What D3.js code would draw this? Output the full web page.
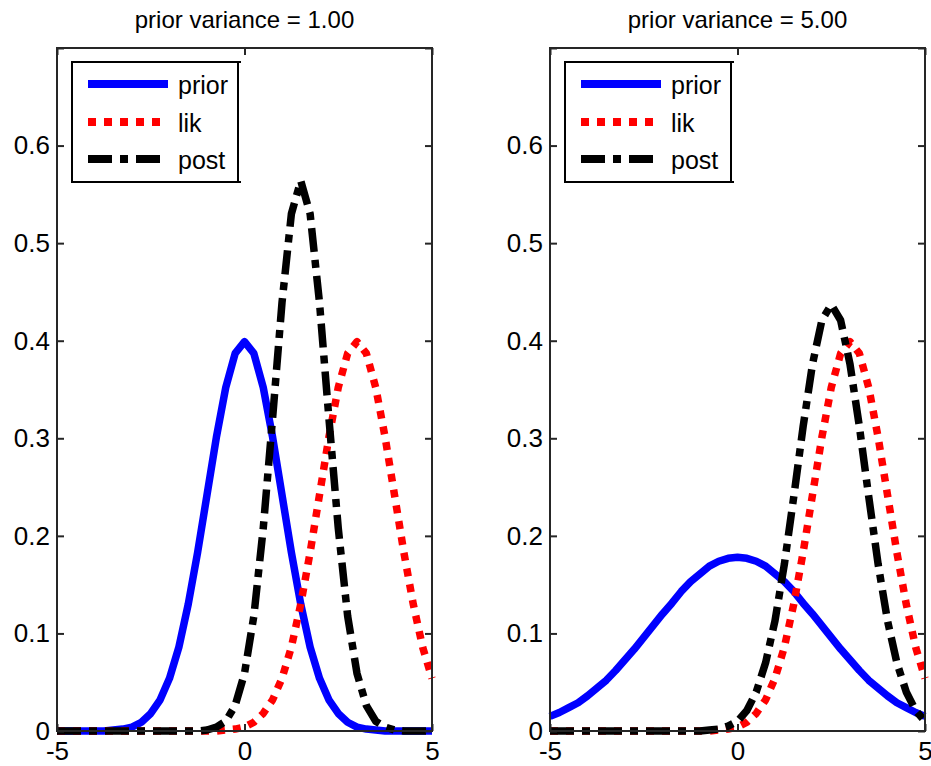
<!DOCTYPE html>
<html>
<head>
<meta charset="utf-8">
<script src="https://cdn.jsdelivr.net/npm/d3@7"></script>
<style>
  html, body { margin: 0; padding: 0; background: #fff; }
  svg { display: block; }
  text { font-family: "Liberation Sans", Arial, sans-serif; fill: #000; }
</style>
</head>
<body>
<svg id="chart" width="931" height="766"></svg>
<script>
// ---------------- data ----------------
const xGrid = [-5,-4.75,-4.5,-4.25,-4,-3.75,-3.5,-3.25,-3,-2.75,-2.5,-2.25,-2,-1.75,-1.5,-1.25,-1,-0.75,-0.5,-0.25,
  0,0.25,0.5,0.75,1,1.25,1.5,1.75,2,2.25,2.5,2.75,3,3.25,3.5,3.75,4,4.25,4.5,4.75,5];

const priorVar1 = [0,0,0,0,0,0,0.001,0.002,0.004,0.009,0.018,0.032,0.054,0.086,0.130,0.183,0.242,0.301,0.352,0.387,
  0.399,0.387,0.352,0.301,0.242,0.183,0.130,0.086,0.054,0.032,0.018,0.009,0.004,0.002,0.001,0,0,0,0,0,0];
const likVar1 = [0,0,0,0,0,0,0,0,0,0,0,0,0,0,0,0,0,0,0.001,0.002,
  0.004,0.009,0.018,0.032,0.054,0.086,0.130,0.183,0.242,0.301,0.352,0.387,0.399,0.387,0.352,0.301,0.242,0.183,0.130,0.086,0.054];
const postVar1 = [0,0,0,0,0,0,0,0,0,0,0,0,0,0,0,0,0.001,0.004,0.010,0.026,
  0.059,0.118,0.208,0.321,0.439,0.530,0.564,0.530,0.439,0.321,0.208,0.118,0.059,0.026,0.010,0.004,0.001,0,0,0,0];

const priorVar5 = [0.015,0.019,0.024,0.029,0.036,0.044,0.052,0.062,0.073,0.084,0.096,0.108,0.120,0.131,0.143,0.153,0.161,0.169,0.174,0.177,
  0.178,0.177,0.174,0.169,0.161,0.153,0.143,0.131,0.120,0.108,0.096,0.084,0.073,0.062,0.052,0.044,0.036,0.029,0.024,0.019,0.015];
const likVar5 = [0,0,0,0,0,0,0,0,0,0,0,0,0,0,0,0,0,0,0.001,0.002,
  0.004,0.009,0.018,0.032,0.054,0.086,0.130,0.183,0.242,0.301,0.352,0.387,0.399,0.387,0.352,0.301,0.242,0.183,0.130,0.086,0.054];
const postVar5 = [0,0,0,0,0,0,0,0,0,0,0,0,0,0,0,0,0,0.001,0.002,0.005,
  0.010,0.021,0.040,0.070,0.113,0.171,0.240,0.312,0.376,0.421,0.437,0.421,0.376,0.312,0.240,0.171,0.113,0.070,0.040,0.021,0.010];

const panelTitles = ["prior variance = 1.00", "prior variance = 5.00"];
const seriesNames = ["prior", "lik", "post"];
const xTicks = [-5, 0, 5];
const xTickLabels = ["-5", "0", "5"];
const yTicks = [0, 0.1, 0.2, 0.3, 0.4, 0.5, 0.6, 0.7];
const yTickLabels = ["0", "0.1", "0.2", "0.3", "0.4", "0.5", "0.6", ""];
const xDomain = [-5, 5];
const yDomain = [0, 0.7];

// ---------------- styles ----------------
const seriesStyles = [
  { color: "#0000ff", dash: null },
  { color: "#ff0000", dash: "8,8" },
  { color: "#000000", dash: "24,8,8,8" }
];
const lineWidth = 7.5;
const panels = [
  { left: 57, series: [priorVar1, likVar1, postVar1] },
  { left: 550, series: [priorVar5, likVar5, postVar5] }
];
const plotW = 375, plotTop = 48, plotBottom = 731;
const axisColor = "#262626";

const svg = d3.select("#chart");
svg.append("rect").attr("width", 931).attr("height", 766).attr("fill", "#fff");

panels.forEach((p, pi) => {
  const x = d3.scaleLinear().domain(xDomain).range([p.left, p.left + plotW]);
  const y = d3.scaleLinear().domain(yDomain).range([plotBottom, plotTop]);
  const g = svg.append("g");

  // lines
  const line = d3.line().x((d, i) => x(xGrid[i])).y(d => y(d));
  p.series.forEach((vals, si) => {
    const st = seriesStyles[si];
    g.append("path")
      .datum(vals)
      .attr("d", line)
      .attr("fill", "none")
      .attr("stroke", st.color)
      .attr("stroke-width", lineWidth)
      .attr("stroke-linejoin", "round")
      .attr("stroke-linecap", "butt")
      .attr("stroke-dasharray", st.dash);
  });

  // axes box
  g.append("rect")
    .attr("x", p.left).attr("y", plotTop)
    .attr("width", plotW).attr("height", plotBottom - plotTop)
    .attr("fill", "none").attr("stroke", axisColor).attr("stroke-width", 2);

  const tickLen = 7;
  const fmtY = v => yTickLabels[yTicks.indexOf(v)];
  const fmtX = v => xTickLabels[xTicks.indexOf(v)];

  const axL = g.append("g").attr("transform", `translate(${p.left},0)`)
    .call(d3.axisLeft(y).tickValues(yTicks).tickFormat(fmtY).tickSize(-tickLen).tickPadding(7));
  const axR = g.append("g").attr("transform", `translate(${p.left + plotW},0)`)
    .call(d3.axisRight(y).tickValues(yTicks).tickFormat("").tickSize(-tickLen));
  const axB = g.append("g").attr("transform", `translate(0,${plotBottom})`)
    .call(d3.axisBottom(x).tickValues(xTicks).tickFormat(fmtX).tickSize(-tickLen).tickPadding(11));
  const axT = g.append("g").attr("transform", `translate(0,${plotTop})`)
    .call(d3.axisTop(x).tickValues(xTicks).tickFormat("").tickSize(-tickLen));
  [axL, axR, axB, axT].forEach(a => {
    a.select(".domain").remove();
    a.selectAll(".tick line").attr("stroke", axisColor).attr("stroke-width", 2);
    a.selectAll(".tick text").attr("font-size", 26).attr("fill", "#000")
      .attr("font-family", '"Liberation Sans", Arial, sans-serif');
  });

  // title
  svg.append("text")
    .attr("x", p.left + plotW / 2).attr("y", 28)
    .attr("text-anchor", "middle").attr("font-size", 24)
    .text(panelTitles[pi]);

  // legend
  const lx = p.left + 15, ly = 62, lw = 166, lh = 120;
  const lg = svg.append("g");
  lg.append("rect").attr("x", lx).attr("y", ly).attr("width", lw).attr("height", lh)
    .attr("fill", "#fff").attr("stroke", "#000").attr("stroke-width", 2);
  lg.append("line").attr("x1", lx + lw).attr("x2", lx + lw + 3).attr("y1", ly).attr("y2", ly)
    .attr("stroke", "#000").attr("stroke-width", 2);
  lg.append("line").attr("x1", lx + lw).attr("x2", lx + lw + 3).attr("y1", ly + lh).attr("y2", ly + lh)
    .attr("stroke", "#000").attr("stroke-width", 2);
  const rowY = [22, 60, 97];
  seriesNames.forEach((name, si) => {
    const st = seriesStyles[si];
    lg.append("line")
      .attr("x1", lx + 16).attr("x2", lx + 96)
      .attr("y1", ly + rowY[si]).attr("y2", ly + rowY[si])
      .attr("stroke", st.color).attr("stroke-width", 8)
      .attr("stroke-dasharray", st.dash);
    lg.append("text")
      .attr("x", lx + 106).attr("y", ly + rowY[si] + 10)
      .attr("font-size", 25)
      .text(name);
  });
});
</script>
</body>
</html>
